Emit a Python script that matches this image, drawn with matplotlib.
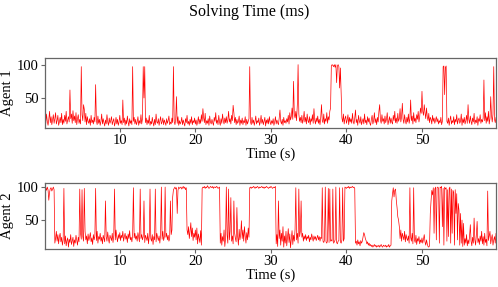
import numpy as np
import matplotlib
matplotlib.use("Agg")
import matplotlib.pyplot as plt

plt.rcParams['font.family'] = ['Liberation Serif', 'DejaVu Serif']

# solving time per step (ms), one sample every 0.1 s starting at t = 0.1 s
agent1_ms = [
    20, 12, 26, 15, 9, 18, 30, 13, 22, 10, 17, 25, 12, 19, 28, 11, 16, 24, 9, 14,
    21, 13, 27, 10, 18, 12, 24, 15, 30, 11, 17, 22, 14, 62, 19, 26, 12, 31, 16, 23,
    13, 28, 10, 19, 25, 12, 18, 11, 97, 25, 16, 40, 33, 14, 27, 10, 22, 15, 12, 19,
    9, 24, 13, 17, 11, 21, 14, 70, 16, 10, 23, 12, 18, 9, 15, 26, 11, 19, 13, 8,
    17, 11, 25, 14, 9, 20, 12, 16, 22, 10, 15, 19, 8, 13, 21, 11, 18, 9, 14, 24,
    12, 16, 10, 47, 13, 20, 9, 17, 11, 23, 14, 8, 19, 12, 16, 10, 97, 15, 21, 11,
    18, 10, 14, 22, 9, 16, 12, 25, 11, 19, 97, 50, 97, 13, 20, 10, 17, 12, 24, 9,
    15, 11, 21, 13, 8, 18, 10, 26, 14, 12, 19, 9, 16, 22, 11, 14, 20, 10, 17, 13,
    9, 19, 12, 16, 23, 10, 14, 11, 20, 13, 97, 15, 10, 18, 52, 12, 22, 9, 16, 11,
    14, 21, 10, 17, 12, 8, 19, 13, 24, 11, 15, 9, 18, 12, 22, 10, 16, 13, 20, 11,
    17, 9, 14, 22, 11, 18, 12, 25, 15, 34, 20, 13, 27, 10, 16, 12, 19, 9, 23, 14,
    11, 18, 13, 9, 21, 15, 28, 12, 17, 10, 24, 14, 9, 19, 12, 26, 16, 11, 20, 13,
    22, 12, 17, 30, 14, 19, 11, 24, 16, 39, 28, 13, 21, 10, 18, 12, 15, 23, 9, 17,
    12, 20, 10, 16, 13, 22, 9, 18, 11, 15, 19, 97, 14, 10, 21, 12, 17, 9, 15, 23,
    11, 16, 13, 20, 9, 14, 24, 12, 18, 10, 15, 21, 8, 17, 12, 19, 11, 22, 14, 10,
    16, 12, 19, 9, 14, 22, 11, 17, 13, 10, 20, 32, 15, 11, 18, 9, 21, 13, 16, 12,
    19, 14, 24, 11, 28, 17, 22, 35, 18, 75, 25, 20, 30, 16, 40, 100, 26, 15, 21, 13,
    24, 12, 18, 30, 14, 21, 11, 26, 16, 13, 22, 10, 19, 15, 25, 12, 34, 17, 11, 20,
    14, 23, 12, 18, 10, 21, 40, 16, 13, 26, 11, 19, 15, 28, 12, 22, 17, 30, 35, 98,
    100, 99, 97, 100, 96, 100, 73, 98, 100, 97, 65, 95, 58, 20, 14, 26, 11, 19, 23, 12,
    17, 25, 10, 21, 14, 19, 12, 27, 15, 11, 20, 32, 13, 18, 9, 24, 16, 12, 22, 10,
    15, 19, 11, 26, 13, 17, 10, 22, 14, 20, 12, 9, 18, 24, 11, 16, 28, 13, 19, 10,
    21, 14, 30, 40, 17, 12, 25, 15, 19, 11, 23, 13, 18, 28, 10, 16, 22, 12, 20, 14,
    11, 24, 16, 30, 13, 20, 12, 27, 15, 19, 34, 14, 22, 42, 18, 12, 25, 16, 11, 21,
    14, 26, 12, 19, 47, 16, 23, 11, 28, 15, 20, 13, 25, 18, 30, 14, 22, 35, 27, 60,
    30, 24, 40, 28, 19, 35, 22, 16, 27, 13, 21, 18, 11, 24, 15, 20, 12, 17, 22, 14,
    19, 11, 16, 13, 21, 10, 15, 97, 98, 55, 96, 98, 15, 12, 20, 9, 17, 23, 11, 16,
    13, 22, 10, 18, 14, 25, 11, 17, 20, 12, 15, 26, 9, 19, 13, 21, 11, 16, 24, 12,
    40, 18, 12, 23, 15, 10, 20, 14, 27, 11, 17, 13, 22, 9, 19, 15, 25, 12, 18, 14,
    20, 77, 16, 28, 12, 22, 15, 30, 11, 19, 52, 24, 14, 26, 97, 18, 13, 21, 16, 12,
]

agent2_ms = [
    97, 99, 95, 100, 96, 80, 92, 98, 99, 94, 97, 100, 96, 15, 22, 33, 18, 28, 14, 25,
    30, 17, 24, 12, 20, 98, 14, 26, 11, 19, 23, 9, 21, 16, 28, 13, 18, 24, 10, 20,
    15, 27, 19, 12, 24, 17, 97, 30, 21, 96, 25, 18, 98, 33, 20, 26, 14, 29, 19, 24,
    31, 17, 23, 13, 28, 20, 26, 98, 19, 33, 15, 25, 21, 30, 18, 24, 14, 27, 22, 17,
    79, 25, 18, 32, 21, 15, 27, 23, 19, 30, 16, 26, 97, 20, 35, 24, 17, 28, 22, 31,
    19, 27, 23, 33, 18, 25, 30, 21, 26, 16, 29, 22, 34, 20, 24, 17, 28, 99, 23, 30,
    21, 26, 18, 31, 24, 17, 97, 22, 28, 20, 25, 79, 16, 27, 23, 19, 30, 14, 26, 97,
    22, 18, 28, 13, 25, 20, 97, 17, 30, 24, 19, 26, 15, 28, 100, 21, 33, 19, 25, 100,
    24, 30, 20, 27, 18, 22, 79, 28, 35, 85, 96, 98, 100, 97, 99, 60, 95, 100, 98, 99,
    100, 97, 99, 101, 98, 100, 96, 99, 35, 28, 40, 22, 33, 46, 25, 38, 19, 30, 24, 35,
    20, 38, 14, 29, 22, 16, 34, 12, 98, 100, 99, 101, 98, 100, 99, 102, 100, 98, 99, 101,
    100, 99, 101, 98, 100, 100, 99, 101, 100, 98, 99, 100, 15, 30, 12, 25, 18, 35, 10, 22,
    100, 28, 15, 97, 20, 33, 84, 18, 26, 14, 79, 30, 22, 17, 69, 25, 12, 36, 20, 28,
    49, 22, 35, 18, 40, 26, 15, 31, 20, 38, 24, 99, 100, 98, 100, 99, 101, 100, 98, 100,
    99, 101, 100, 98, 100, 99, 100, 101, 99, 100, 98, 100, 99, 101, 100, 99, 98, 100, 99, 101,
    100, 98, 99, 100, 99, 101, 14, 28, 10, 79, 22, 35, 12, 30, 18, 40, 9, 26, 15, 33,
    11, 24, 37, 16, 29, 8, 21, 34, 13, 27, 18, 36, 99, 20, 30, 15, 97, 25, 33, 79,
    24, 30, 18, 26, 21, 28, 19, 25, 22, 27, 17, 24, 20, 29, 23, 18, 26, 21, 25, 19,
    23, 27, 20, 25, 18, 24, 22, 99, 18, 16, 20, 100, 17, 15, 19, 98, 16, 97, 18, 20,
    18, 97, 15, 17, 20, 100, 16, 14, 18, 19, 99, 17, 15, 20, 99, 18, 22, 100, 99, 98,
    100, 99, 101, 98, 100, 99, 100, 101, 99, 100, 98, 15, 18, 12, 20, 14, 17, 11, 19, 15,
    18, 25, 31, 28, 22, 19, 14, 17, 12, 15, 11, 13, 10, 12, 9, 11, 13, 10, 12, 9,
    11, 10, 12, 9, 11, 13, 10, 9, 12, 11, 10, 12, 9, 11, 10, 13, 9, 11, 12, 79,
    90, 99, 85, 95, 97, 80, 69, 55, 50, 40, 22, 35, 18, 30, 25, 20, 33, 17, 28, 22,
    19, 26, 15, 99, 24, 18, 30, 14, 99, 20, 16, 27, 13, 22, 18, 25, 14, 20, 16, 23,
    15, 21, 28, 17, 12, 20, 14, 10, 9, 11, 60, 79, 95, 88, 99, 30, 97, 100, 20, 99,
    100, 98, 15, 100, 99, 101, 40, 98, 12, 100, 97, 99, 18, 96, 25, 98, 100, 15, 97, 30,
    95, 92, 12, 96, 60, 90, 20, 75, 65, 12, 60, 15, 50, 10, 45, 12, 22, 15, 28, 11,
    20, 14, 26, 43, 18, 11, 24, 15, 53, 20, 12, 28, 48, 16, 22, 13, 26, 18, 33, 14,
    25, 12, 30, 16, 21, 11, 94, 19, 26, 33, 14, 22, 28, 12, 20, 25, 15, 30, 18, 24,
]

t_first, t_step, t_last = 0.1, 0.1, 59.8
series = [("Agent 1", agent1_ms, (5, 110)), ("Agent 2", agent2_ms, (6, 106))]

fig = plt.figure(figsize=(4.98, 2.87), dpi=100)
boxes = [[0.0904, 0.554, 0.9056, 0.244], [0.0904, 0.132, 0.9056, 0.230]]

for (name, vals, ylim), box in zip(series, boxes):
    ax = fig.add_axes(box)
    t = t_first + t_step * np.arange(len(vals))
    ax.plot(t, vals, color='red', lw=0.5)
    ax.set_xlim(t_first, t_last)
    ax.set_ylim(*ylim)
    ax.set_xticks([10, 20, 30, 40, 50])
    ax.set_yticks([50, 100])
    ax.tick_params(labelsize=10.5, length=3, width=0.8, color='0.4', pad=1.5)
    for s in ax.spines.values():
        s.set_color('0.4')
        s.set_linewidth(0.9)
    ax.set_xlabel('Time (s)', fontsize=10.5, labelpad=0)
    ax.set_ylabel(name, fontsize=10.5, labelpad=2)

fig.suptitle('Solving Time (ms)', fontsize=11.5, y=0.958, va='center')
fig.savefig('out.png', dpi=100)
